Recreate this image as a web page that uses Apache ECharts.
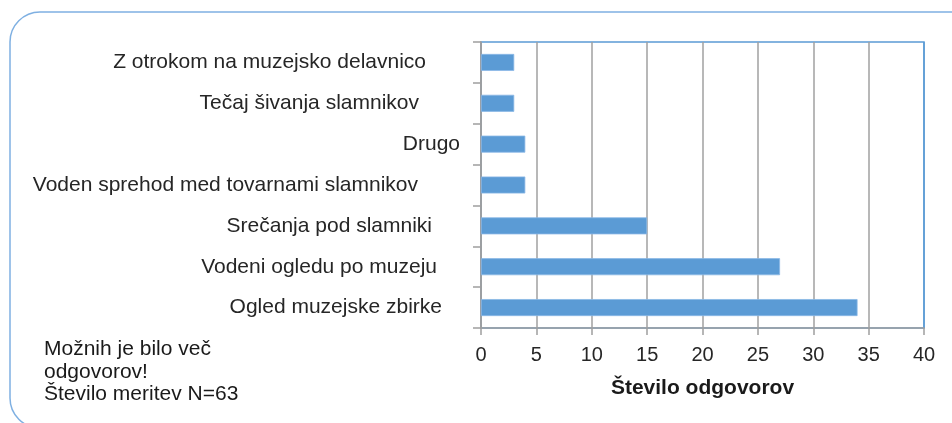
<!DOCTYPE html>
<html>
<head>
<meta charset="utf-8">
<script src="https://cdn.jsdelivr.net/npm/echarts@6/dist/echarts.min.js"></script>
<style>
html,body{margin:0;padding:0;background:#fff;}
#chart{width:952px;height:423px;}
</style>
</head>
<body>
<div id="chart"></div>
<script>
// Data (top-to-bottom order as shown)
const categories = [
  'Z otrokom na muzejsko delavnico',
  'Tečaj šivanja slamnikov',
  'Drugo',
  'Voden sprehod med tovarnami slamnikov',
  'Srečanja pod slamniki',
  'Vodeni ogledu po muzeju',
  'Ogled muzejske zbirke'
];
const values = [3, 3, 4, 4, 15, 27, 34];
const xAxisName = 'Število odgovorov';
const noteLines = ['Možnih je bilo več', 'odgovorov!', 'Število meritev N=63'];

// per-label right padding (layout only)
const labelPad = [34, 41, 0, 42, 28, 23, 18];
const rich = {};
labelPad.forEach((p, i) => {
  rich['p' + i] = {padding: [0, p, 0, 0], fontSize: 21, color: '#262626', fontFamily: 'Liberation Sans'};
});
const gridColors = ['#a0a0a0','#a0a0a0','#a0a0a0','#a0a0a0','#a0a0a0','#a0a0a0','#a0a0a0','#a0a0a0','#5b9bd5'];

const chart = echarts.init(document.getElementById('chart'), null, {renderer: 'canvas'});
chart.setOption({
  animation: false,
  backgroundColor: '#fff',
  textStyle: {fontFamily: 'Liberation Sans'},
  graphic: [
    {
      type: 'rect', silent: true, z: -10,
      shape: {x: 10, y: 12, width: 975, height: 416, r: 30},
      style: {fill: 'none', stroke: '#7fb0e2', lineWidth: 1.5}
    },
    {
      type: 'text', left: 44, top: 338,
      style: {
        text: noteLines.join('\n'),
        fontSize: 21, lineHeight: 22.5, fill: '#1a1a1a', fontFamily: 'Liberation Sans'
      }
    }
  ],
  grid: {
    left: 481, right: 28, top: 42, bottom: 95,
    show: true, borderColor: '#5b9bd5', borderWidth: 1.5, backgroundColor: 'transparent'
  },
  xAxis: {
    type: 'value', min: 0, max: 40, interval: 5,
    name: xAxisName, nameLocation: 'middle', nameGap: 50,
    nameTextStyle: {fontSize: 21, fontWeight: 'bold', color: '#1a1a1a', fontFamily: 'Liberation Sans'},
    axisLine: {show: true, lineStyle: {color: '#9e9e9e', width: 1.5}},
    axisTick: {show: true, length: 7, lineStyle: {color: '#9e9e9e', width: 1.5}},
    axisLabel: {fontSize: 20, color: '#262626', margin: 17},
    splitLine: {show: true, lineStyle: {color: gridColors, width: 1.5}}
  },
  yAxis: {
    type: 'category', data: categories, inverse: true,
    axisLine: {show: true, lineStyle: {color: '#9e9e9e', width: 1.5}},
    axisTick: {show: true, length: 8, alignWithLabel: false, lineStyle: {color: '#9e9e9e', width: 1.5}},
    axisLabel: {
      margin: 21, fontSize: 21, color: '#262626',
      formatter: (v, i) => '{p' + i + '|' + v + '}',
      rich: rich
    },
    splitLine: {show: false}
  },
  series: [{
    type: 'bar', data: values, barWidth: 17,
    itemStyle: {color: '#5b9bd5', borderColor: '#8ab8e6', borderWidth: 0.8}
  }]
});
</script>
</body>
</html>
